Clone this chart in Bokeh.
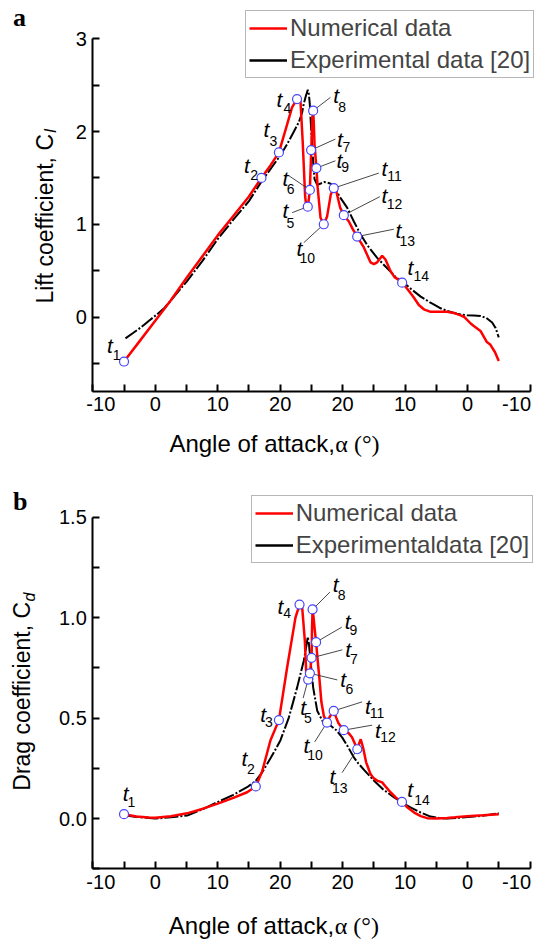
import numpy as np
from bokeh.plotting import figure
from bokeh.models import Range1d, FixedTicker, Label, Legend, LegendItem, ColumnDataSource
from bokeh.layouts import column
from bokeh.embed import file_html
from bokeh.resources import INLINE
from bokeh.core.properties import value

# turning angle of the pitching motion (upstroke -5 -> 25, downstroke 25 -> -5)
ALPHA_MAX = 25.0

# ---------------- panel a : lift coefficient ----------------
cl_num_up_alpha = [-5.0, -2.5, 0.0, 2.5, 5.0, 7.5, 10.0, 12.5, 15.0, 17.0,
                   18.5, 19.8, 21.0, 21.9, 22.7, 23.25, 23.6, 24.0, 24.2, 24.42,
                   24.6, 24.75, 24.9, 25.0]
cl_num_up = [-0.48, -0.26, -0.04, 0.18, 0.42, 0.65, 0.88, 1.09, 1.30, 1.50,
             1.64, 1.775, 2.05, 2.26, 2.35, 2.33, 1.90, 1.30, 1.18, 1.19,
             1.28, 1.37, 1.65, 1.85]
cl_num_down_alpha = [24.85, 24.72, 24.62, 24.5, 24.2, 24.0, 23.54, 23.02, 22.5, 21.9,
                     21.42, 21.0, 20.4, 19.81, 19.0, 18.4, 17.67, 16.6, 15.54, 15.0,
                     14.47, 13.67, 13.14, 12.34, 11.7, 11.0, 10.47, 9.6, 8.6, 7.8,
                     7.0, 6.0, 5.4, 3.3, 2.0, 1.1, 0.5, -0.5, -1.0, -2.07,
                     -3.1, -3.67, -4.4, -5.0]
cl_num_down = [2.15, 2.225, 2.10, 1.865, 1.606, 1.40, 1.07, 1.00, 1.08, 1.32,
               1.39, 1.35, 1.18, 1.098, 1.03, 0.95, 0.867, 0.75, 0.59, 0.57,
               0.59, 0.66, 0.62, 0.497, 0.43, 0.40, 0.37, 0.30, 0.21, 0.13,
               0.083, 0.058, 0.057, 0.057, 0.04, 0.018, 0.0, -0.07, -0.097, -0.15,
               -0.27, -0.30, -0.38, -0.475]
cl_exp_up_alpha = [-4.77, -3.5, -2.36, -1.0, 0.31, 1.5, 2.44, 5.0, 7.5, 10.0,
                   12.5, 15.0, 17.0, 18.5, 20.0, 21.12, 22.2, 22.98, 23.5, 23.78,
                   24.1, 24.42, 24.6, 24.74, 24.9, 25.0]
cl_exp_up = [-0.23, -0.17, -0.115, -0.04, 0.03, 0.10, 0.173, 0.38, 0.60, 0.84,
             1.05, 1.25, 1.46, 1.60, 1.74, 1.865, 2.0, 2.10, 2.2, 2.30,
             2.38, 2.45, 2.40, 2.30, 2.1, 1.99]
cl_exp_down_alpha = [24.88, 24.7, 24.5, 24.07, 23.5, 23.0, 22.47, 22.0, 21.42, 20.5,
                     19.28, 18.2, 17.14, 16.0, 14.5, 13.5, 12.5, 11.5, 10.2, 9.0,
                     7.5, 5.93, 4.5, 3.26, 1.7, 0.06, -1.0, -2.07, -3.0, -3.94,
                     -4.5, -5.0]
cl_exp_down = [1.865, 1.65, 1.487, 1.425, 1.44, 1.455, 1.45, 1.44, 1.415, 1.30,
               1.18, 1.03, 0.893, 0.77, 0.64, 0.57, 0.50, 0.43, 0.37, 0.30,
               0.22, 0.154, 0.10, 0.065, 0.035, 0.018, 0.015, 0.011, -0.01, -0.06,
               -0.12, -0.22]
cl_t_alpha = [-5.0, 17.0, 19.8, 22.7, 24.42, 24.75, 24.95, 24.72, 24.2, 23.02, 21.42, 19.81, 17.67, 10.47]
cl_t_stroke = ["up"] * 7 + ["down"] * 7
cl_t_value = [-0.48, 1.50, 1.775, 2.35, 1.19, 1.37, 1.80, 2.225, 1.606, 1.00, 1.39, 1.098, 0.867, 0.37]

# ---------------- panel b : drag coefficient ----------------
cd_num_up_alpha = [-5.0, -3.0, -1.0, 0.0, 2.5, 5.1, 7.5, 9.9, 12.5, 14.7,
                   16.1, 17.12, 18.45, 19.8, 21.12, 22.45, 23.1, 23.5, 23.95, 24.2,
                   24.48, 24.76, 25.0]
cd_num_up = [0.022, 0.01, 0.005, 0.004, 0.012, 0.026, 0.048, 0.073, 0.103, 0.131,
             0.16, 0.235, 0.39, 0.49, 0.753, 1.0, 1.065, 1.06, 0.886, 0.703,
             0.692, 0.723, 0.79]
cd_num_down_alpha = [24.97, 24.9, 24.81, 24.65, 24.5, 24.25, 24.0, 23.7, 23.4, 23.0,
                     22.54, 22.0, 21.44, 21.0, 20.66, 19.83, 19.0, 18.5, 18.0, 17.67,
                     17.4, 17.1, 16.7, 16.24, 15.54, 15.0, 14.47, 13.67, 13.0, 12.34,
                     11.5, 10.55, 9.6, 8.6, 7.5, 6.46, 5.0, 3.26, 2.0, 0.06,
                     -2.5, -5.0]
cd_num_down = [0.80, 0.95, 1.041, 1.0, 0.95, 0.878, 0.79, 0.69, 0.58, 0.51,
               0.479, 0.51, 0.538, 0.50, 0.474, 0.44, 0.424, 0.405, 0.37, 0.345,
               0.37, 0.395, 0.35, 0.28, 0.222, 0.20, 0.189, 0.18, 0.155, 0.131,
               0.105, 0.083, 0.055, 0.031, 0.012, 0.002, 0.0, 0.003, 0.006, 0.012,
               0.016, 0.022]
cd_exp_up_alpha = [-4.9, -3.0, -1.0, 0.0, 2.5, 5.1, 7.5, 9.9, 12.5, 14.7,
                   16.0, 17.12, 18.45, 19.0, 20.05, 21.4, 22.72, 23.78, 24.2, 24.42,
                   24.6, 24.86]
cd_exp_up = [0.017, 0.008, 0.003, 0.0, 0.006, 0.015, 0.045, 0.081, 0.118, 0.156,
             0.185, 0.23, 0.30, 0.33, 0.39, 0.504, 0.653, 0.786, 0.86, 0.905,
             0.87, 0.786]
cd_exp_down_alpha = [24.72, 24.07, 23.27, 21.95, 21.0, 20.08, 19.2, 18.21, 17.5, 16.5,
                     15.01, 13.5, 11.81, 10.5, 9.14, 7.5, 5.93, 4.5, 3.26, 1.0,
                     -1.0, -3.0, -5.0]
cd_exp_down = [0.653, 0.537, 0.488, 0.463, 0.44, 0.404, 0.36, 0.305, 0.275, 0.24,
               0.189, 0.145, 0.106, 0.08, 0.056, 0.03, 0.01, 0.003, 0.0, 0.005,
               0.01, 0.016, 0.026]
cd_t_alpha = [-5.0, 16.1, 19.8, 23.1, 24.48, 24.76, 24.97, 24.81, 24.25, 22.5, 21.43, 19.82, 17.65, 10.5]
cd_t_stroke = ["up"] * 6 + ["down"] * 8
cd_t_value = [0.022, 0.16, 0.49, 1.065, 0.692, 0.723, 0.80, 1.041, 0.878, 0.478, 0.536, 0.44, 0.345, 0.083]

# tick values on the unfolded angle axis and their angle labels
x_tick_pos = list(range(-10, 61, 5))
x_tick_angle = [-10, -5, 0, 5, 10, 15, 20, 25, 20, 15, 10, 5, 0, -5, -10]
X_MIN, X_MAX = -10, 60

# ---------------- layout (pixels inside each 541 x 470 panel) ----------------
W, PH = 541, 470
AX_L, AX_R = 92.3, 529.5
FONT = "Liberation Sans"
SERIF = "Liberation Serif"

lay_a = dict(
    box=(38.3, 390.7),
    t_dx=[-14, -14.5, -12.5, -17.5, -22.3, -24.3, 28.8, 23, 23, -24.3, 50.7, 40.7, 41.3, 8.3],
    t_dy=[-16.5, -12.7, -23.4, 0, 4.3, -11, -11, -15, -7.8, 24.2, -19.8, -19.3, -5.7, -15.5],
    s_dx=[-7.5, -7.4, -5.6, -9.7, -17.3, -19.3, 35.3, 29, 28.7, -16.6, 60.7, 50.7, 50, 19.1],
    s_dy=[-6.7, -2.5, -11.7, 9.2, 16, -1, -2.6, -3.3, -0.6, 33.4, -12.3, -11, 4.3, -6.7],
    leaders={5: (-15.6, 6), 6: (-21, -14.3), 7: (24.3, -11), 8: (17.3, -13.3), 9: (19, -7.3),
             10: (-20, 18.4), 11: (45, -15), 12: (36, -18.5), 13: (36.6, -7.4)},
    letter=(12.5, 17), ymain=(44, 218.3), ysub=(49.5, 130.5), xlab=(168.9, 443),
    legend=(245, PH - 78.3),
)
lay_b = dict(
    box=(46.7, 398.3),
    t_dx=[1.7, -11.4, -15.8, -19, -4.9, 33.2, 36.5, 23, 31.5, -20.7, 34.2, 34.2, -24.9, 8.3],
    t_dy=[-20.7, -27.7, -6, 1.7, 28, 6.5, -8.3, -24.8, -20.9, 23, -4.5, 0, 27.4, -12.3],
    s_dx=[7.4, -4.9, -10, -12.3, -0.2, 39.5, 42.3, 29, 37.3, -12.1, 43.4, 44.2, -17.5, 20],
    s_dy=[-12.3, -17.7, 1.5, 8.5, 38.8, 15.6, 1, -14, -11.7, 32.7, 2.6, 6.7, 38.9, -2.3],
    leaders={5: (-5, 18.6), 6: (27.4, 6.6), 7: (30.7, -8), 8: (17.3, -17.3), 9: (25.7, -15),
             10: (-12.3, 19.4), 11: (28.4, -9), 12: (28.4, -5), 13: (-15.2, 23.4)},
    letter=(12.5, 30.5), ymain=(21.5, 225.8), ysub=(29, 126.5), xlab=(168.3, 455),
    legend=(250.7, PH - 93.3),
)
XLAB_FS = 24
XLAB_SANS_EM = 6.893   # advance of "Angle of attack," in em (Arial metrics)


def unfold(alpha, stroke):
    a = np.asarray(alpha, dtype=float)
    return a if stroke == "up" else 2 * ALPHA_MAX - a


def style_axis(ax):
    ax.axis_line_width = 2
    ax.axis_line_color = "black"
    ax.major_tick_line_width = 2
    ax.major_tick_line_color = "black"
    ax.major_tick_in = 7
    ax.major_tick_out = 0
    ax.minor_tick_line_color = None
    ax.major_label_text_font = FONT
    ax.major_label_text_font_size = "20px"
    ax.major_label_text_color = "black"
    ax.major_label_standoff = 6


def panel(num, exp, marks, lay, ymin, ymax, ystep, ylab_every, yfmt,
          exp_label, ylab_main, ylab_sub, letter):
    top_px, bot_px = lay["box"]
    sx = (AX_R - AX_L) / (X_MAX - X_MIN)
    sy = (bot_px - top_px) / (ymax - ymin)
    x0 = X_MIN - AX_L / sx
    x1 = X_MAX + (W - AX_R) / sx
    y1 = ymax + top_px / sy
    y0 = ymin - (PH - bot_px) / sy

    def to_data(px, py):
        return x0 + px / sx, y1 - py / sy

    p = figure(width=W, height=PH, x_range=Range1d(x0, x1), y_range=Range1d(y0, y1),
               output_backend="svg", toolbar_location=None, title=None, min_border=0)
    p.outline_line_color = None
    p.grid.visible = False
    p.background_fill_color = "white"
    p.border_fill_color = "white"

    # axes drawn at the box edges inside the full-canvas frame
    xa = p.xaxis[0]
    style_axis(xa)
    xa.fixed_location = ymin
    xa.bounds = (X_MIN, X_MAX)
    xa.ticker = FixedTicker(ticks=x_tick_pos)
    xa.major_label_overrides = {pos: (str(ang) if (ang % 10 == 0 and pos not in (X_MIN, X_MAX)) else "")
                                for pos, ang in zip(x_tick_pos, x_tick_angle)}
    ya = p.yaxis[0]
    style_axis(ya)
    ya.fixed_location = X_MIN
    ya.bounds = (ymin, ymax)
    n = int(round(ymax / ystep))
    yt = [round(i * ystep, 4) for i in range(int(np.ceil(ymin / ystep - 1e-9)), n + 1)]
    ya.ticker = FixedTicker(ticks=yt)
    ya.major_label_overrides = {v: (yfmt.format(v) if abs(v / ylab_every - round(v / ylab_every)) < 1e-6 else "")
                                for v in yt}

    (nua, nu, nda, nd) = num
    (eua, eu, eda, ed) = exp
    ex = np.concatenate([unfold(eua, "up"), unfold(eda, "down")])
    ey = np.concatenate([eu, ed])
    nx = np.concatenate([unfold(nua, "up"), unfold(nda, "down")])
    ny = np.concatenate([nu, nd])
    p.line(ex, ey, line_color="black", line_width=2, line_dash="14 2 2 2")
    r_num = p.line(nx, ny, line_color="#ff0000", line_width=2.5)
    # solid key for the legend (no drawn points)
    r_exp_key = p.line(x=[np.nan], y=[np.nan], line_color="black", line_width=2.5)

    ta, ts, tv = marks
    tx = np.array([float(unfold([a], s)[0]) for a, s in zip(ta, ts)])
    tv = np.asarray(tv, dtype=float)

    # leader lines from the markers to their labels
    lx0, ly0, lx1, ly1 = [], [], [], []
    for k, (dx, dy) in lay["leaders"].items():
        i = k - 1
        lx0.append(tx[i]); ly0.append(tv[i])
        lx1.append(tx[i] + dx / sx); ly1.append(tv[i] - dy / sy)
    p.segment(lx0, ly0, lx1, ly1, line_color="#333333", line_width=0.9)

    p.scatter(tx, tv, marker="circle", size=9, fill_color="white",
              line_color="#4646ff", line_width=1.2)

    src_t = ColumnDataSource(dict(x=tx, y=tv, txt=["t"] * len(tx),
                                  xo=lay["t_dx"], yo=lay["t_dy"]))
    p.text(x="x", y="y", text="txt", x_offset="xo", y_offset="yo", source=src_t,
           text_font=value(FONT), text_font_style="italic", text_font_size=value("21px"),
           text_align="center", text_baseline="middle", text_color="black")
    src_s = ColumnDataSource(dict(x=tx, y=tv, txt=[str(i + 1) for i in range(len(tx))],
                                  xo=lay["s_dx"], yo=lay["s_dy"]))
    p.text(x="x", y="y", text="txt", x_offset="xo", y_offset="yo", source=src_s,
           text_font=value(FONT), text_font_size=value("14px"),
           text_align="center", text_baseline="middle", text_color="black")

    def lab(text, pos, **kw):
        dx, dy = to_data(*pos)
        p.add_layout(Label(x=dx, y=dy, x_units="data", y_units="data", text=text,
                           text_color="black", **kw))

    # the two end labels of the angle axis, kept inside the box like the original
    lab("-10", (AX_L + 8, bot_px + 6), text_font=FONT, text_font_size="20px",
        text_align="center", text_baseline="top")
    lab("-10", (AX_R + 1, bot_px + 6), text_font=FONT, text_font_size="20px",
        text_align="right", text_baseline="top")

    lab(letter, lay["letter"], text_font=SERIF, text_font_style="bold",
        text_font_size="26px", text_align="left", text_baseline="middle")
    lab(ylab_main, lay["ymain"], text_font=FONT, text_font_size="23px", angle=np.pi / 2,
        text_align="center", text_baseline="middle")
    lab(ylab_sub, lay["ysub"], text_font=FONT, text_font_style="italic", text_font_size="16px",
        angle=np.pi / 2, text_align="center", text_baseline="middle")
    xl, yl = lay["xlab"]
    lab("Angle of attack,", (xl, yl), text_font=FONT, text_font_size=f"{XLAB_FS}px",
        text_align="left", text_baseline="middle")
    lab("\u03b1 (\u00b0)", (xl + XLAB_SANS_EM * XLAB_FS + 0.5, yl), text_font=SERIF,
        text_font_size=f"{XLAB_FS}px", text_align="left", text_baseline="middle")

    legend = Legend(items=[LegendItem(label="Numerical data", renderers=[r_num]),
                           LegendItem(label=exp_label, renderers=[r_exp_key])],
                    location=lay["legend"], label_text_font=FONT, label_text_font_size="24px",
                    glyph_width=38, glyph_height=26, label_height=26, label_standoff=3,
                    spacing=4, padding=3, margin=0, border_line_color="#6f6f6f",
                    border_line_width=1, background_fill_color="white", background_fill_alpha=1)
    p.add_layout(legend)
    return p


pa = panel((cl_num_up_alpha, cl_num_up, cl_num_down_alpha, cl_num_down),
           (cl_exp_up_alpha, cl_exp_up, cl_exp_down_alpha, cl_exp_down),
           (cl_t_alpha, cl_t_stroke, cl_t_value), lay_a,
           -0.8, 3.0, 0.5, 1.0, "{:.0f}",
           "Experimental data [20]", "Lift coefficient, C", "l", "a")

pb = panel((cd_num_up_alpha, cd_num_up, cd_num_down_alpha, cd_num_down),
           (cd_exp_up_alpha, cd_exp_up, cd_exp_down_alpha, cd_exp_down),
           (cd_t_alpha, cd_t_stroke, cd_t_value), lay_b,
           -0.25, 1.5, 0.25, 0.5, "{:.1f}",
           "Experimentaldata [20]", "Drag coefficient, C", "d", "b")

layout = column(pa, pb, spacing=0)
open("out.html", "w").write(file_html(layout, INLINE))
